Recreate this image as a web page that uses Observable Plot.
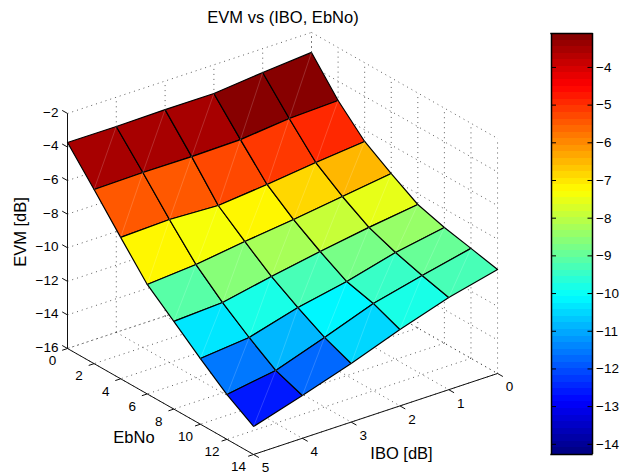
<!DOCTYPE html>
<html>
<head>
<meta charset="utf-8">
<script src="https://cdn.jsdelivr.net/npm/d3@7"></script>
<script src="https://cdn.jsdelivr.net/npm/@observablehq/plot@0.6"></script>
<style>
html,body{margin:0;padding:0;background:#fff}
#chart{display:flex;width:631px;height:476px;overflow:hidden}
#chart svg{display:block;flex:none;background:#fff}
</style>
</head>
<body>
<div id="chart"></div>
<script>
// Values
const iboValues = [5, 4, 3, 2, 1, 0];
const ebnoValues = [0, 2, 4, 6, 8, 10, 12, 14];
const evmEbNo0  = [-3.73, -3.74, -3.70, -3.71, -3.42, -3.19];
const evmEbNo2  = [-5.63, -5.58, -5.60, -5.55, -5.26, -5.15];
const evmEbNo4  = [-7.58, -7.48, -7.61, -7.32, -6.98, -6.69];
const evmEbNo6  = [-9.48, -9.26, -8.85, -8.51, -8.10, -7.70];
const evmEbNo8  = [-10.78, -10.62, -10.03, -9.51, -9.04, -8.64];
const evmEbNo10 = [-12.09, -11.80, -10.98, -10.40, -9.63, -9.11];
const evmEbNo12 = [-13.33, -12.86, -11.86, -10.80, -10.10, -9.45];
const evmEbNo14 = [-14.33, -13.45, -12.51, -11.45, -10.51, -9.81];
const evmRows = [evmEbNo0, evmEbNo2, evmEbNo4, evmEbNo6, evmEbNo8, evmEbNo10, evmEbNo12, evmEbNo14];

const iboTicks = [0, 1, 2, 3, 4, 5];
const ebnoTicks = [0, 2, 4, 6, 8, 10, 12, 14];
const evmTicks = [-2, -4, -6, -8, -10, -12, -14, -16];
const colorbarTicks = [-4, -5, -6, -7, -8, -9, -10, -11, -12, -13, -14];
const colorDomain = [-14.27, -3.1];
const faceColorOffset = 0.2; // face colours read slightly hotter than the vertex heights

// MATLAB "jet" colormap, 64 levels
function jet(t) {
  const c = v => Math.round(255 * Math.max(0, Math.min(1, v)));
  return `rgb(${c(1.5 - Math.abs(4 * t - 3))},${c(1.5 - Math.abs(4 * t - 2))},${c(1.5 - Math.abs(4 * t - 1))})`;
}
const jetColors = d3.range(64).map(i => jet((i + 0.5) / 64));

// Orthographic view of the 3-D axes box: (IBO, EbNo, EVM) -> page
const px = (ibo, ebno) => 67 + 48.8 * (5 - ibo) + 13.29 * ebno;
const py = (ibo, ebno, evm) => 348 - 16.2 * (5 - ibo) + 7.571 * ebno - 16.79 * (evm + 16);
const point = (ibo, ebno, evm, extra = {}) => ({px: px(ibo, ebno), py: py(ibo, ebno, evm), ...extra});

const zTop = -2, zBottom = -16;

// Surface faces, diagonals
const facePts = [], diagPts = [];
for (let e = 0; e < ebnoValues.length - 1; e++) {
  for (let k = 0; k < iboValues.length - 1; k++) {
    const id = `${e}-${k}`;
    const v = evmRows[e][k + 1] + faceColorOffset;
    const corners = [[e, k], [e, k + 1], [e + 1, k + 1], [e + 1, k], [e, k]];
    corners.forEach(([r, c]) => facePts.push(point(iboValues[c], ebnoValues[r], evmRows[r][c], {id, v})));
    [[e + 1, k], [e, k + 1]].forEach(([r, c]) => diagPts.push(point(iboValues[c], ebnoValues[r], evmRows[r][c], {id})));
  }
}

// Dotted grid
const gridPts = [];
let gid = 0;
const seg = (a, b) => { gid++; gridPts.push(point(...a, {id: gid}), point(...b, {id: gid})); };
for (const z of evmTicks) {
  seg([5, 0, z], [0, 0, z]);
  seg([0, 0, z], [0, 14, z]);
}
for (const i of iboTicks) {
  seg([i, 0, zBottom], [i, 0, zTop]);
  seg([i, 0, zBottom], [i, 14, zBottom]);
}
for (const e of ebnoTicks) {
  seg([0, e, zBottom], [0, e, zTop]);
  seg([0, e, zBottom], [5, e, zBottom]);
}

// Axis lines & ticks
const axisLines = [
  [[5, 0, zBottom], [5, 0, zTop]],
  [[5, 0, zBottom], [5, 14, zBottom]],
  [[5, 14, zBottom], [0, 14, zBottom]]
].concat(
  evmTicks.map(z => [[5, 0, z], [5, -0.4, z]]),
  ebnoTicks.map(e => [[5, e, zBottom], [5.11, e, zBottom]]),
  iboTicks.map(i => [[i, 14, zBottom], [i, 14.4, zBottom]])
).map(([a, b]) => ({x1: px(a[0], a[1]), y1: py(...a), x2: px(b[0], b[1]), y2: py(...b)}));

const textFont = "'Liberation Sans', Arial, Helvetica, sans-serif";
const fmt = d => String(d).replace("-", "\u2212");

const main = Plot.plot({
  width: 531,
  height: 476,
  margin: 0,
  style: {background: "#fff", fontFamily: textFont},
  x: {domain: [0, 531], range: [0, 531], axis: null},
  y: {domain: [0, 476], range: [0, 476], axis: null},
  color: {type: "quantize", domain: colorDomain, range: jetColors},
  marks: [
    Plot.line(gridPts, {x: "px", y: "py", z: "id", stroke: "#333", strokeWidth: 0.8, strokeDasharray: "1,4", strokeLinecap: "butt"}),
    Plot.link(axisLines, {x1: "x1", y1: "y1", x2: "x2", y2: "y2", stroke: "#111", strokeWidth: 1}),
    Plot.line(facePts, {x: "px", y: "py", z: "id", fill: "v", stroke: "#000", strokeWidth: 1.2, strokeLinejoin: "round"}),
    Plot.line(diagPts, {x: "px", y: "py", z: "id", stroke: "#fff", strokeOpacity: 0.25, strokeWidth: 0.7}),
    Plot.text(evmTicks, {x: () => px(5, 0), y: d => py(5, 0, d), text: fmt, textAnchor: "end", dx: -9, dy: -1, fontSize: 13.5, fill: "#000"}),
    Plot.text(ebnoTicks, {x: d => px(5, d), y: d => py(5, d, zBottom), text: fmt, dx: -15, dy: 12.5, fontSize: 13.5, fill: "#000"}),
    Plot.text(iboTicks, {x: d => px(d, 14), y: d => py(d, 14, zBottom), text: fmt, dx: 12, dy: 13.5, fontSize: 13.5, fill: "#000"}),
    Plot.text(["EVM vs (IBO, EbNo)"], {x: () => 282.5, y: () => 17, text: d => d, fontSize: 16.5, fill: "#000"}),
    Plot.text(["EVM [dB]"], {x: () => 20, y: () => 231.5, text: d => d, rotate: -90, fontSize: 16.5, fill: "#000"}),
    Plot.text(["EbNo"], {x: () => 133.5, y: () => 437.5, text: d => d, fontSize: 16.5, fill: "#000"}),
    Plot.text(["IBO [dB]"], {x: () => 401, y: () => 453, text: d => d, fontSize: 16.5, fill: "#000"})
  ]
});

// Colorbar
const bandStep = (colorDomain[1] - colorDomain[0]) / 64;
const bands = jetColors.map((c, i) => ({c, y1: colorDomain[0] + i * bandStep, y2: colorDomain[0] + (i + 1) * bandStep}));
const bar = Plot.plot({
  width: 100,
  height: 476,
  margin: 0,
  style: {background: "#fff", fontFamily: textFont},
  x: {domain: [0, 100], range: [0, 100], axis: null},
  y: {domain: colorDomain, range: [454, 33], axis: null},
  marks: [
    Plot.rect(bands, {x1: () => 20, x2: () => 61, y1: "y1", y2: "y2", fill: "c", shapeRendering: "crispEdges"}),
    Plot.ruleY(colorbarTicks, {x1: () => 20.5, x2: () => 25, stroke: "#000", strokeWidth: 1}),
    Plot.ruleY(colorbarTicks, {x1: () => 56.5, x2: () => 61, stroke: "#000", strokeWidth: 1}),
    Plot.ruleX([20, 61], {y1: colorDomain[0], y2: colorDomain[1], stroke: "#000", strokeWidth: 1.5}),
    Plot.ruleY(colorDomain, {x1: () => 19.3, x2: () => 61.7, stroke: "#000", strokeWidth: 1.5}),
    Plot.text(colorbarTicks, {x: () => 64.5, y: d => d, text: fmt, textAnchor: "start", fontSize: 13.5, fill: "#000"})
  ]
});

document.getElementById("chart").append(main, bar);
</script>
</body>
</html>
